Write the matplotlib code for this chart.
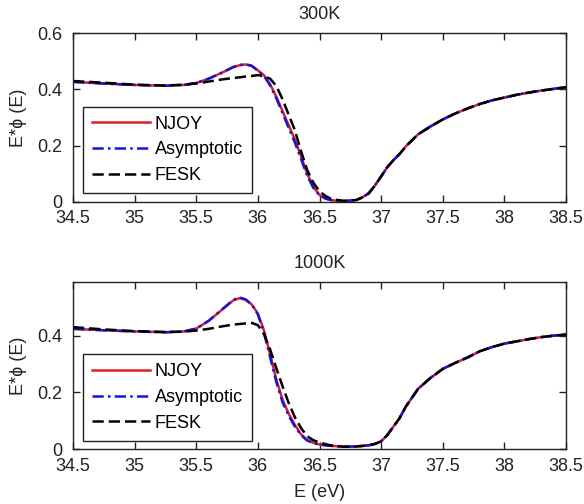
import matplotlib
matplotlib.use("Agg")
import matplotlib.pyplot as plt

plt.rcParams['font.family'] = ['Liberation Sans', 'DejaVu Sans']

# ---------------- data ----------------
energy = [34.5, 34.75, 35.0, 35.25, 35.4, 35.5, 35.6, 35.7, 35.8, 35.85, 35.9, 35.95,
          36.0, 36.05, 36.1, 36.15, 36.2, 36.25, 36.3, 36.35, 36.4, 36.45, 36.5, 36.55,
          36.6, 36.7, 36.8, 36.85, 36.9, 36.95, 37.0, 37.05, 37.1, 37.15, 37.2, 37.3,
          37.4, 37.5, 37.6, 37.7, 37.8, 37.9, 38.0, 38.1, 38.2, 38.3, 38.4, 38.5]

njoy_300 = [0.427, 0.421, 0.416, 0.413, 0.416, 0.423, 0.438, 0.458, 0.479, 0.486, 0.489, 0.484,
            0.468, 0.450, 0.418, 0.374, 0.323, 0.272, 0.222, 0.162, 0.100, 0.053, 0.024, 0.011,
            0.005, 0.002, 0.006, 0.016, 0.030, 0.058, 0.090, 0.123, 0.148, 0.170, 0.197, 0.240,
            0.268, 0.293, 0.314, 0.332, 0.348, 0.361, 0.371, 0.381, 0.389, 0.396, 0.402, 0.408]
asym_300 = [0.427, 0.421, 0.416, 0.413, 0.416, 0.423, 0.438, 0.458, 0.480, 0.487, 0.490, 0.484,
            0.467, 0.448, 0.414, 0.368, 0.316, 0.263, 0.211, 0.152, 0.093, 0.049, 0.023, 0.011,
            0.005, 0.002, 0.006, 0.016, 0.030, 0.058, 0.090, 0.123, 0.148, 0.170, 0.197, 0.240,
            0.268, 0.293, 0.314, 0.332, 0.348, 0.361, 0.371, 0.381, 0.389, 0.396, 0.402, 0.408]
fesk_300 = [0.430, 0.424, 0.417, 0.414, 0.417, 0.421, 0.428, 0.435, 0.441, 0.443, 0.446, 0.448,
            0.451, 0.447, 0.438, 0.412, 0.365, 0.310, 0.255, 0.180, 0.113, 0.068, 0.037, 0.020,
            0.009, 0.003, 0.006, 0.016, 0.030, 0.058, 0.090, 0.123, 0.148, 0.170, 0.197, 0.240,
            0.268, 0.293, 0.314, 0.332, 0.348, 0.361, 0.371, 0.381, 0.389, 0.396, 0.402, 0.408]

njoy_1000 = [0.424, 0.419, 0.415, 0.412, 0.415, 0.425, 0.452, 0.488, 0.524, 0.532, 0.526, 0.510,
             0.478, 0.418, 0.333, 0.245, 0.175, 0.125, 0.086, 0.053, 0.033, 0.023, 0.017, 0.014,
             0.012, 0.009, 0.010, 0.012, 0.014, 0.019, 0.028, 0.050, 0.080, 0.110, 0.150, 0.213,
             0.251, 0.283, 0.304, 0.323, 0.345, 0.360, 0.372, 0.380, 0.388, 0.395, 0.400, 0.404]
asym_1000 = [0.424, 0.419, 0.415, 0.412, 0.415, 0.425, 0.452, 0.489, 0.526, 0.535, 0.528, 0.510,
             0.475, 0.410, 0.323, 0.236, 0.166, 0.118, 0.080, 0.050, 0.031, 0.022, 0.017, 0.014,
             0.012, 0.009, 0.010, 0.012, 0.014, 0.019, 0.028, 0.050, 0.080, 0.110, 0.150, 0.213,
             0.251, 0.283, 0.304, 0.323, 0.345, 0.360, 0.372, 0.380, 0.388, 0.395, 0.400, 0.404]
fesk_1000 = [0.430, 0.422, 0.416, 0.413, 0.414, 0.418, 0.424, 0.432, 0.439, 0.441, 0.443, 0.445,
             0.437, 0.405, 0.351, 0.285, 0.222, 0.163, 0.113, 0.075, 0.046, 0.032, 0.024, 0.018,
             0.013, 0.009, 0.010, 0.012, 0.014, 0.019, 0.028, 0.050, 0.080, 0.110, 0.150, 0.213,
             0.251, 0.283, 0.304, 0.323, 0.345, 0.360, 0.372, 0.380, 0.388, 0.395, 0.400, 0.404]

titles = ['300K', '1000K']
series_labels = ['NJOY', 'Asymptotic', 'FESK']
xticks = [34.5, 35, 35.5, 36, 36.5, 37, 37.5, 38, 38.5]
xtick_labels = ['34.5', '35', '35.5', '36', '36.5', '37', '37.5', '38', '38.5']
yticks_top = [0, 0.2, 0.4, 0.6]
ytick_labels_top = ['0', '0.2', '0.4', '0.6']
yticks_bot = [0, 0.2, 0.4]
ytick_labels_bot = ['0', '0.2', '0.4']

# ---------------- figure ----------------
W, H = 584, 504
fig = plt.figure(figsize=(W / 100, H / 100), dpi=100)

def px_axes(l, t, r, b):
    return [l / W, 1 - b / H, (r - l) / W, (b - t) / H]

ax1 = fig.add_axes(px_axes(73, 33.3, 566, 201.7))
ax2 = fig.add_axes(px_axes(73, 281.7, 566, 449.3))

FS = 13
TXT = '#222222'
panels = [
    (ax1, njoy_300, asym_300, fesk_300, titles[0], yticks_top, ytick_labels_top, 0.6),
    (ax2, njoy_1000, asym_1000, fesk_1000, titles[1], yticks_bot, ytick_labels_bot, 0.59),
]

for ax, nj, asy, fe, title, yt, ytl, ymax in panels:
    ax.plot(energy, nj, color='#dc2028', lw=1.8, label=series_labels[0])
    ax.plot(energy, asy, color='#1414dc', lw=1.8, dashes=(4.5, 1.7, 1, 1.7),
            label=series_labels[1])
    ax.plot(energy, fe, color='black', lw=1.8, dashes=(4.5, 2.0), label=series_labels[2])
    ax.set_xlim(34.5, 38.5)
    ax.set_ylim(0, ymax)
    ax.set_xticks(xticks)
    ax.set_xticklabels(xtick_labels)
    ax.set_yticks(yt)
    ax.set_yticklabels(ytl)
    ax.tick_params(direction='in', length=5, width=1, top=True, right=True,
                   labelsize=FS, pad=6, colors=TXT)
    ax.tick_params(axis='y', pad=8)
    for sp in ax.spines.values():
        sp.set_linewidth(1.0)
        sp.set_color(TXT)
    ax.set_title(title, fontsize=FS, pad=10, color=TXT)
    ax.set_ylabel('E*ϕ (E)', fontsize=FS, labelpad=7, color=TXT)
    leg = ax.legend(loc='lower left', bbox_to_anchor=(0.0203, 0.052), borderaxespad=0,
                    fontsize=FS, handlelength=3.2, handletextpad=0.28, labelspacing=0.48,
                    borderpad=0.5, fancybox=False, framealpha=1)
    leg.get_frame().set_edgecolor(TXT)
    leg.get_frame().set_linewidth(1.0)

ax2.set_xlabel('E (eV)', fontsize=FS, labelpad=7, color=TXT)

fig.savefig('out.png', dpi=100)
